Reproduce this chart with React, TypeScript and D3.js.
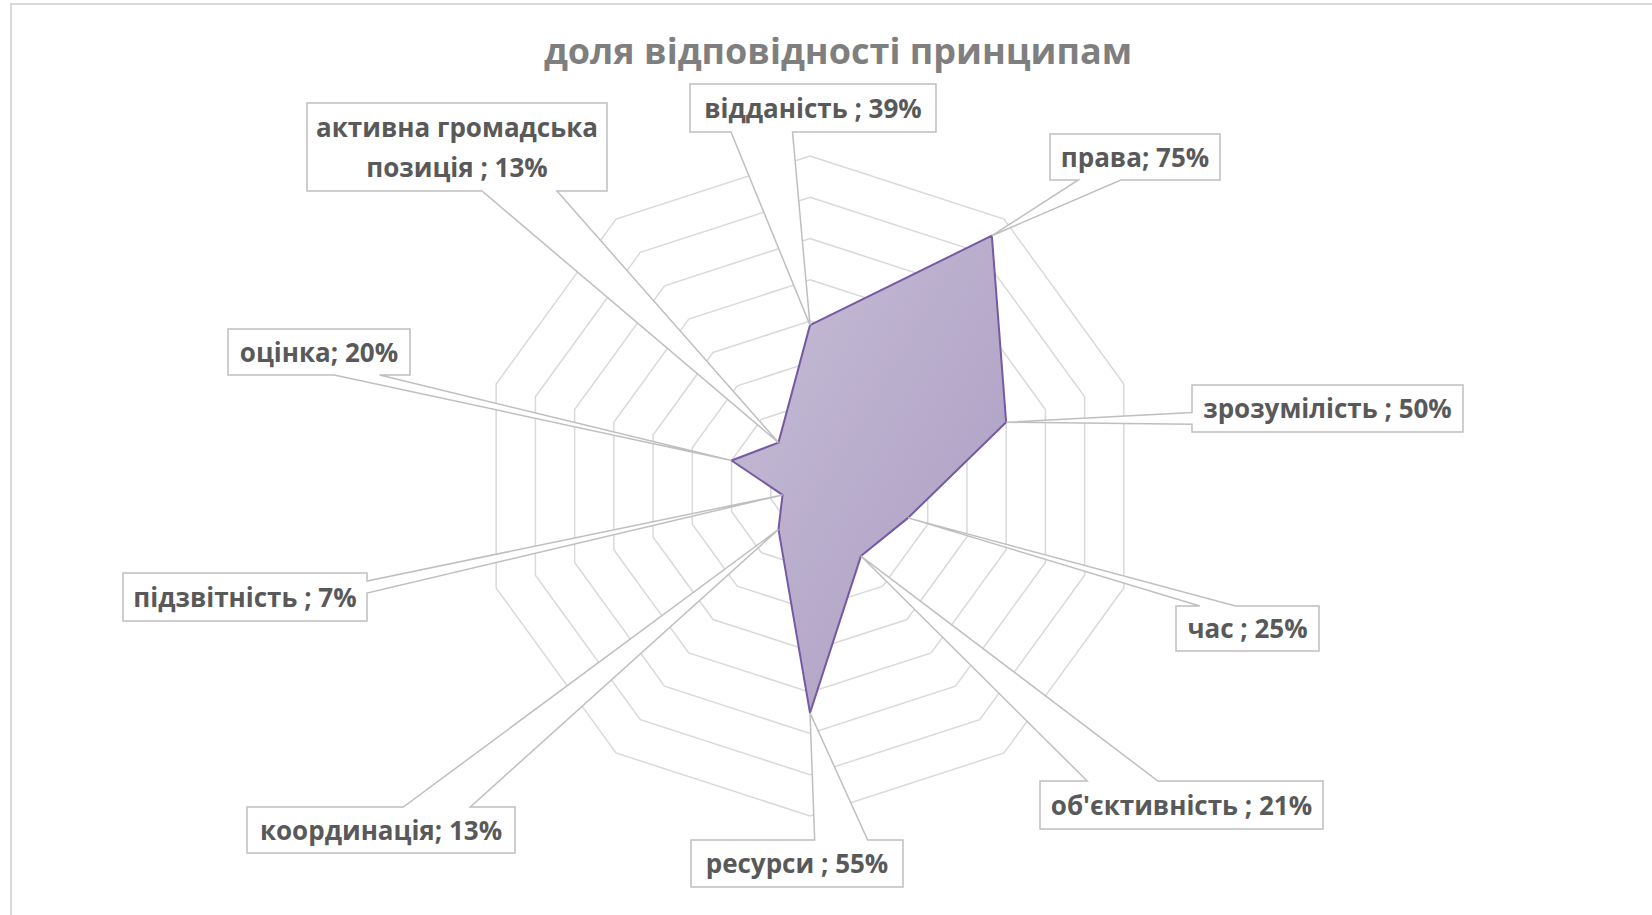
import React from "react";
import * as d3 from "d3";

const categories = [
  "відданість ",
  "права",
  "зрозумілість ",
  "час ",
  "об'єктивність ",
  "ресурси ",
  "координація",
  "підзвітність ",
  "оцінка",
  "активна громадська позиція ",
];
const values = [0.39, 0.75, 0.5, 0.25, 0.21, 0.55, 0.13, 0.07, 0.2, 0.13];
const gridTicks = [0.1, 0.2, 0.3, 0.4, 0.5, 0.6, 0.7, 0.8];
const title = "доля відповідності принципам";

// label box layout [x, y, w, h] and line breaks
const labelBoxes: [number, number, number, number][] = [
  [690, 84, 246, 48],
  [1050, 134, 170, 46],
  [1192, 385, 271, 47],
  [1176, 606, 143, 45],
  [1040, 781, 283, 48],
  [691, 840, 212, 47],
  [247, 807, 268, 46],
  [123, 573, 244, 48],
  [228, 329, 182, 46],
  [307, 103, 300, 88],
];
const labelLines: string[][] = [
  [],
  [],
  [],
  [],
  [],
  [],
  [],
  [],
  [],
  ["активна громадська", "позиція ; 13%"],
];

const W = 1652;
const H = 915;
const CX = 810;
const CY = 486;
const RMAX = 330;

function calloutPath(x: number, y: number, w: number, h: number, tx: number, ty: number) {
  const hc = x + w / 2;
  const vc = y + h / 2;
  const dx = tx - hc;
  const dy = ty - vc;
  const dq = (dx * h) / w;
  const dz = Math.abs(dy) - Math.abs(dq);
  const p: [number, number][] = [[x, y]];
  let side = "";
  let a = 0;
  let b = 0;
  if (dz > 0) {
    a = dx > 0 ? x + (7 * w) / 12 : x + (2 * w) / 12;
    b = dx > 0 ? x + (10 * w) / 12 : x + (5 * w) / 12;
    side = dy > 0 ? "bottom" : "top";
  } else {
    a = dy > 0 ? y + (7 * h) / 12 : y + (2 * h) / 12;
    b = dy > 0 ? y + (10 * h) / 12 : y + (5 * h) / 12;
    side = dx > 0 ? "right" : "left";
  }
  if (side === "top") p.push([a, y], [tx, ty], [b, y]);
  p.push([x + w, y]);
  if (side === "right") p.push([x + w, a], [tx, ty], [x + w, b]);
  p.push([x + w, y + h]);
  if (side === "bottom") p.push([b, y + h], [tx, ty], [a, y + h]);
  p.push([x, y + h]);
  if (side === "left") p.push([x, b], [tx, ty], [x, a]);
  return "M" + p.map((q) => q.join(",")).join("L") + "Z";
}

export default function App() {
  const n = categories.length;
  const r = d3.scaleLinear().domain([0, 0.8]).range([0, RMAX]);
  const angle = d3.scaleLinear().domain([0, n]).range([0, 2 * Math.PI]);
  const pt = (i: number, v: number): [number, number] => {
    const a = angle(i);
    return [CX + r(v) * Math.sin(a), CY - r(v) * Math.cos(a)];
  };
  const lineGen = d3.line<[number, number]>().curve(d3.curveLinearClosed);
  const pct = d3.format(".0%");
  const font = "'Open Sans', 'Noto Sans', sans-serif";
  const fs = 26;

  return (
    <div style={{ position: "absolute", left: 0, top: 0, width: W, height: H, background: "#fff" }}>
      <svg width={W} height={H} style={{ display: "block" }}>
        <defs>
          <linearGradient id="fillg" x1="0" y1="0" x2="1" y2="1">
            <stop offset="0" stopColor="#c6bed6" />
            <stop offset="1" stopColor="#ab9bc2" />
          </linearGradient>
        </defs>
        <rect x={0} y={0} width={W} height={H} fill="#fff" />
        <path d={`M11,${H}L11,4L${W},4`} fill="none" stroke="#d9d9d9" strokeWidth={2} />
        <text
          x={838}
          y={64}
          textAnchor="middle"
          fontFamily={font}
          fontWeight={700}
          fontSize={36}
          fill="#7f7f7f"
        >
          {title}
        </text>
        <g>
          {gridTicks.map((t) => (
            <path
              key={t}
              d={lineGen(d3.range(n).map((i) => pt(i, t))) || ""}
              fill="none"
              stroke="#d9d9d9"
              strokeWidth={1.5}
            />
          ))}
        </g>
        <path
          d={lineGen(values.map((v, i) => pt(i, v))) || ""}
          fill="url(#fillg)"
          stroke="#7559a3"
          strokeWidth={2}
          strokeLinejoin="round"
        />
        <g>
          {values.map((v, i) => {
            const [tx, ty] = pt(i, v);
            const [bx, by, bw, bh] = labelBoxes[i];
            const lines = labelLines[i].length ? labelLines[i] : [categories[i] + "; " + pct(v)];
            const lh = 40;
            const startY = by + bh / 2 - ((lines.length - 1) * lh) / 2 + 9.5;
            return (
              <g key={i}>
                <path
                  d={calloutPath(bx, by, bw, bh, tx, ty)}
                  fill="#fff"
                  stroke="#bfbfbf"
                  strokeWidth={1.5}
                />
                {lines.map((s, k) => (
                  <text
                    key={k}
                    x={bx + bw / 2}
                    y={startY + k * lh}
                    textAnchor="middle"
                    fontFamily={font}
                    fontWeight={700}
                    fontSize={fs}
                    fill="#595959"
                  >
                    {s}
                  </text>
                ))}
              </g>
            );
          })}
        </g>
      </svg>
    </div>
  );
}
